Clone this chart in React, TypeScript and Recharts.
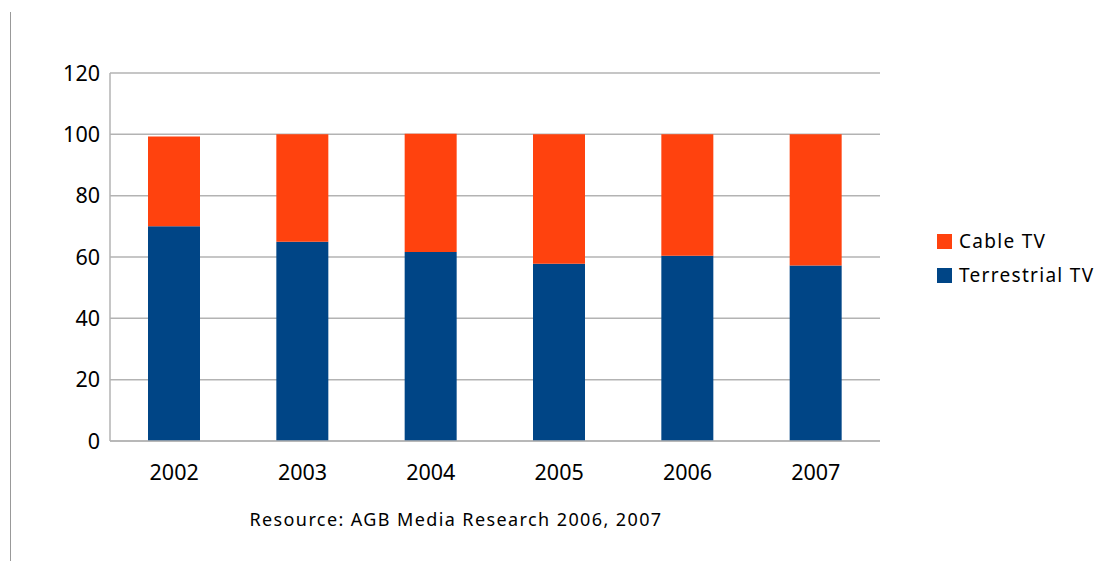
import { Bar, BarChart, CartesianGrid, Legend, XAxis, YAxis } from "recharts";

const years = ["2002", "2003", "2004", "2005", "2006", "2007"];
const terrestrial = [70, 65, 61.6, 57.8, 60.4, 57.2];
const cable = [29.3, 35, 38.6, 42.2, 39.6, 42.8];
const yTicks = [0, 20, 40, 60, 80, 100, 120];

const data = years.map((year, i) => ({
  year,
  terrestrial: terrestrial[i],
  cable: cable[i],
}));

const FONT = "'Noto Sans', sans-serif";

function LegendBox() {
  const items = [
    { label: "Cable TV", color: "#ff420e" },
    { label: "Terrestrial TV", color: "#004586" },
  ];
  return (
    <div style={{ fontFamily: FONT, fontSize: 19, color: "#000" }}>
      {items.map((it) => (
        <div key={it.label} style={{ display: "flex", alignItems: "center", height: 34 }}>
          <span style={{ width: 15, height: 15, background: it.color, display: "inline-block", marginRight: 7 }} />
          <span style={{ letterSpacing: 1.3 }}>{it.label}</span>
        </div>
      ))}
    </div>
  );
}

export default function App() {
  return (
    <div style={{ position: "absolute", left: 0, top: 0, width: 1107, height: 561, background: "#fff" }}>
      <div style={{ position: "absolute", left: 10, top: 12, width: 1, bottom: 0, background: "#999" }} />
      <BarChart
        width={1107}
        height={561}
        data={data}
        margin={{ top: 73, right: 57, bottom: 90, left: 0 }}
        barSize={52}
      >
        <CartesianGrid vertical={false} stroke="#b3b3b3" strokeWidth={1.5} />
        <XAxis
          dataKey="year"
          height={30}
          axisLine={{ stroke: "#b3b3b3", strokeWidth: 1.5 }}
          tickLine={false}
          tickSize={0}
          tickMargin={24}
          tick={{ fill: "#000", fontSize: 21.5, fontFamily: FONT }}
        />
        <YAxis
          width={110}
          domain={[0, 120]}
          ticks={yTicks}
          axisLine={{ stroke: "#b3b3b3", strokeWidth: 1.5 }}
          tickLine={false}
          tickSize={0}
          tickMargin={10}
          tick={{ fill: "#000", fontSize: 21.5, fontFamily: FONT }}
        />
        <YAxis
          yAxisId="right"
          orientation="right"
          width={0}
          domain={[0, 120]}
          tick={false}
          tickLine={false}
          axisLine={{ stroke: "#b3b3b3", strokeWidth: 1.5 }}
        />
        <Legend
          layout="vertical"
          align="right"
          verticalAlign="top"
          content={() => <LegendBox />}
          wrapperStyle={{ left: 937, top: 224, width: 170 }}
        />
        <Bar dataKey="terrestrial" name="Terrestrial TV" stackId="a" fill="#004586" isAnimationActive={false} />
        <Bar dataKey="cable" name="Cable TV" stackId="a" fill="#ff420e" isAnimationActive={false} />
      </BarChart>
      <div
        style={{
          position: "absolute",
          left: 0,
          width: 912,
          top: 507,
          textAlign: "center",
          fontFamily: FONT,
          fontSize: 18,
          letterSpacing: 1.4,
          color: "#000",
        }}
      >
        Resource: AGB Media Research 2006, 2007
      </div>
    </div>
  );
}
